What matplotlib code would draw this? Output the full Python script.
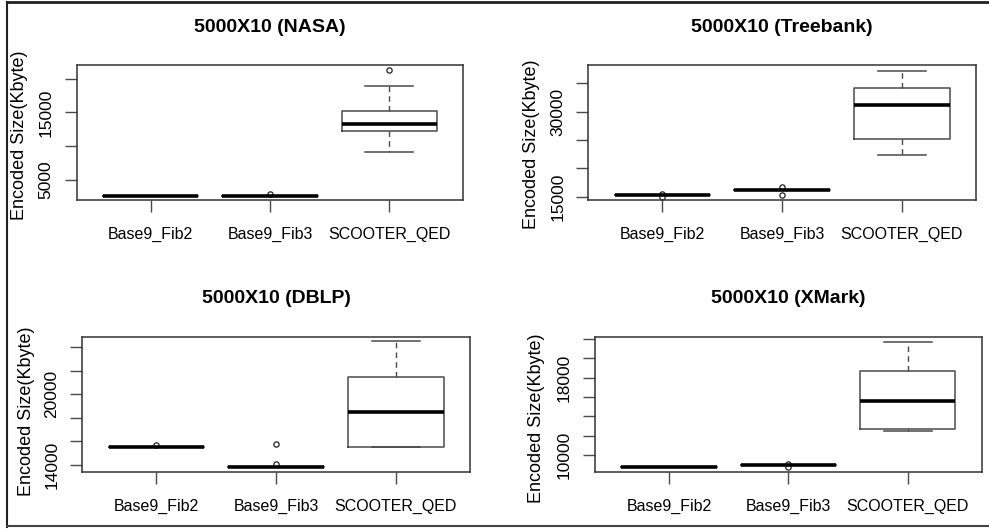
import matplotlib
matplotlib.use('Agg')
import matplotlib.pyplot as plt
from matplotlib.lines import Line2D

plt.rcParams['font.family'] = ['Liberation Sans', 'DejaVu Sans']

categories = ['Base9_Fib2', 'Base9_Fib3', 'SCOOTER_QED']

# NASA
nasa_lo = [2700, 2700, 9200]
nasa_q1 = [2700, 2700, 12200]
nasa_med = [2700, 2700, 13300]
nasa_q3 = [2700, 2700, 15200]
nasa_hi = [2700, 2700, 18900]
nasa_out = [[], [3000], [21300]]
nasa_ticks = [5000, 10000, 15000, 20000]
nasa_ticklabels = ['5000', '', '15000', '']
nasa_ylim = [2060, 22000]

# Treebank
tree_lo = [15200, 16200, 22300]
tree_q1 = [15200, 16200, 25100]
tree_med = [15200, 16200, 31200]
tree_q3 = [15200, 16200, 34200]
tree_hi = [15200, 16200, 37200]
tree_out = [[15500, 15000], [16700, 15300], []]
tree_ticks = [15000, 20000, 25000, 30000, 35000]
tree_ticklabels = ['15000', '', '', '30000', '']
tree_ylim = [14400, 38200]

# DBLP
dblp_lo = [15490, 13830, 15500]
dblp_q1 = [15490, 13830, 15500]
dblp_med = [15490, 13830, 18490]
dblp_q3 = [15490, 13830, 21430]
dblp_hi = [15490, 13830, 24500]
dblp_out = [[15700], [15800, 14050], []]
dblp_ticks = [14000, 16000, 18000, 20000, 22000, 24000]
dblp_ticklabels = ['14000', '', '', '20000', '', '']
dblp_ylim = [13400, 24850]

# XMark
xmark_lo = [8830, 9000, 12550]
xmark_q1 = [8830, 9000, 12690]
xmark_med = [8830, 9000, 15560]
xmark_q3 = [8830, 9000, 18690]
xmark_hi = [8830, 9000, 21690]
xmark_out = [[], [9150, 8800], []]
xmark_ticks = [10000, 12000, 14000, 16000, 18000, 20000, 22000]
xmark_ticklabels = ['10000', '', '', '', '18000', '', '']
xmark_ylim = [8310, 22140]

panels = [
    ('5000X10 (NASA)', nasa_lo, nasa_q1, nasa_med, nasa_q3, nasa_hi, nasa_out,
     nasa_ticks, nasa_ticklabels, nasa_ylim),
    ('5000X10 (Treebank)', tree_lo, tree_q1, tree_med, tree_q3, tree_hi, tree_out,
     tree_ticks, tree_ticklabels, tree_ylim),
    ('5000X10 (DBLP)', dblp_lo, dblp_q1, dblp_med, dblp_q3, dblp_hi, dblp_out,
     dblp_ticks, dblp_ticklabels, dblp_ylim),
    ('5000X10 (XMark)', xmark_lo, xmark_q1, xmark_med, xmark_q3, xmark_hi, xmark_out,
     xmark_ticks, xmark_ticklabels, xmark_ylim),
]

# axes rectangles in figure fractions, label positions
rects = [[0.0775, 0.622, 0.391, 0.255],
         [0.5948, 0.622, 0.392, 0.255],
         [0.0832, 0.1083, 0.392, 0.254],
         [0.6016, 0.1083, 0.391, 0.254]]
ylabel_pos = [(-0.126, 0.478), (-0.125, 0.415), (-0.122, 0.448), (-0.129, 0.40)]
title_pad = [23.5, 23.5, 25, 25]

gray = '#4a4a4a'

fig = plt.figure(figsize=(9.89, 5.29), dpi=100)

for i, (title, lo, q1, med, q3, hi, out, ticks, ticklabels, ylim) in enumerate(panels):
    ax = fig.add_axes(rects[i])
    stats = []
    for j in range(len(categories)):
        stats.append({'label': categories[j], 'whislo': lo[j], 'q1': q1[j],
                      'med': med[j], 'q3': q3[j], 'whishi': hi[j],
                      'fliers': out[j]})
    ax.bxp(stats, positions=[1, 2, 3], widths=0.8, capwidths=0.4,
           boxprops=dict(color=gray, linewidth=1.1),
           medianprops=dict(color='black', linewidth=2.6, solid_capstyle='butt'),
           whiskerprops=dict(color=gray, linewidth=1.0, linestyle=(0, (4, 3))),
           capprops=dict(color=gray, linewidth=1.1),
           flierprops=dict(marker='o', markersize=3.8, markerfacecolor='white',
                           markeredgecolor='#222222', markeredgewidth=0.9))
    ax.set_xlim(0.38, 3.62)
    ax.set_ylim(ylim)
    ax.set_yticks(ticks)
    ax.set_yticklabels(ticklabels, rotation=90, va='center', fontsize=12.5)
    ax.tick_params(axis='y', length=8.5, width=1.0, color=gray, pad=8)
    ax.tick_params(axis='x', length=8.5, width=1.0, color=gray, pad=11,
                   labelsize=11.5)
    for s in ax.spines.values():
        s.set_color('#333333')
        s.set_linewidth(1.1)
    ax.set_title(title, fontsize=14, fontweight='bold', pad=title_pad[i])
    ax.set_ylabel('Encoded Size(Kbyte)', fontsize=13)
    ax.yaxis.set_label_coords(*ylabel_pos[i])

# outer frame of the picture
fig.add_artist(Line2D([0.007, 1.0], [0.996, 0.996], color='#222222', linewidth=2,
                      transform=fig.transFigure))
fig.add_artist(Line2D([0.0075, 0.0075], [0.004, 0.996], color='#222222', linewidth=1.5,
                      transform=fig.transFigure))
fig.add_artist(Line2D([0.0075, 1.0], [0.005, 0.005], color='#444444', linewidth=1.5,
                      transform=fig.transFigure))

fig.savefig('out.png', dpi=100)
